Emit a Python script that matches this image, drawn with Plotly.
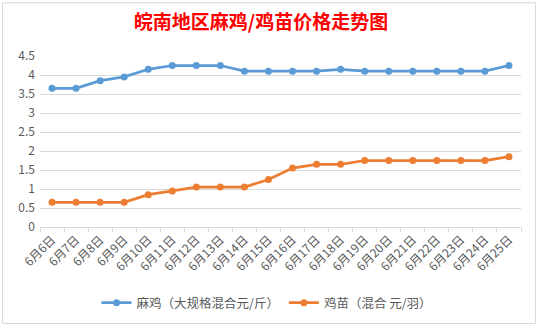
import plotly.graph_objects as go

# 日期与价格
dates = ["6月6日", "6月7日", "6月8日", "6月9日", "6月10日", "6月11日", "6月12日",
         "6月13日", "6月14日", "6月15日", "6月16日", "6月17日", "6月18日", "6月19日",
         "6月20日", "6月21日", "6月22日", "6月23日", "6月24日", "6月25日"]
maji = [3.65, 3.65, 3.85, 3.95, 4.15, 4.25, 4.25, 4.25, 4.1, 4.1,
        4.1, 4.1, 4.15, 4.1, 4.1, 4.1, 4.1, 4.1, 4.1, 4.25]
jimiao = [0.65, 0.65, 0.65, 0.65, 0.85, 0.95, 1.05, 1.05, 1.05, 1.25,
          1.55, 1.65, 1.65, 1.75, 1.75, 1.75, 1.75, 1.75, 1.75, 1.85]
y_ticks = [0, 0.5, 1, 1.5, 2, 2.5, 3, 3.5, 4, 4.5]

W, H = 538, 328
L, R, T, B = 40, 17, 56, 100
pw, ph = W - L - R, H - T - B

FONT = "Noto Sans CJK SC"
GRAY = "#595959"
GRID = "#D9D9D9"

fig = go.Figure()
fig.add_trace(go.Scatter(
    x=dates, y=maji, name="麻鸡（大规格混合元/斤）", mode="lines+markers",
    line=dict(color="#5B9BD5", width=2.75),
    marker=dict(color="#5B9BD5", size=7, symbol="circle"),
))
fig.add_trace(go.Scatter(
    x=dates, y=jimiao, name="鸡苗（混合 元/羽）", mode="lines+markers",
    line=dict(color="#ED7D31", width=2.75),
    marker=dict(color="#ED7D31", size=7, symbol="circle"),
))


def px_x(v):
    return (v - L) / pw


def px_y(v):
    return (H - B - v) / ph


# 图表外框
fig.add_shape(type="rect", xref="paper", yref="paper",
              x0=px_x(2.5), x1=px_x(535.5), y0=px_y(325), y1=px_y(2.5),
              line=dict(color=GRID, width=1), fillcolor="rgba(0,0,0,0)", layer="below")

fig.update_layout(
    width=W, height=H,
    margin=dict(l=L, r=R, t=T, b=B),
    paper_bgcolor="white", plot_bgcolor="white",
    font=dict(family=FONT, color=GRAY, size=12),
    title=dict(text="<b>皖南地区麻鸡/鸡苗价格走势图</b>",
               font=dict(family=FONT, size=19, color="#FF0000"),
               xref="container", x=261 / W, xanchor="center",
               yref="container", y=1 - 22 / H, yanchor="middle"),
    showlegend=True,
    legend=dict(orientation="h", x=px_x(267), xanchor="center",
                y=px_y(303), yanchor="middle",
                font=dict(family=FONT, size=12.5, color=GRAY),
                itemwidth=30, bgcolor="rgba(0,0,0,0)"),
    xaxis=dict(
        type="category", tickangle=-45, tickson="boundaries",
        ticks="outside", ticklen=4, tickcolor=GRID,
        showline=True, linecolor=GRID, linewidth=1, showgrid=False,
        tickfont=dict(family=FONT, size=12, color=GRAY),
        range=[-0.5, len(dates) - 0.5],
    ),
    yaxis=dict(
        range=[0, 4.5], tickvals=y_ticks, showgrid=True, gridcolor=GRID,
        gridwidth=1, zeroline=False, showline=False, ticks="",
        tickfont=dict(family=FONT, size=12, color=GRAY),
        ticklabelstandoff=4,
    ),
)

fig.write_html("out.html")
